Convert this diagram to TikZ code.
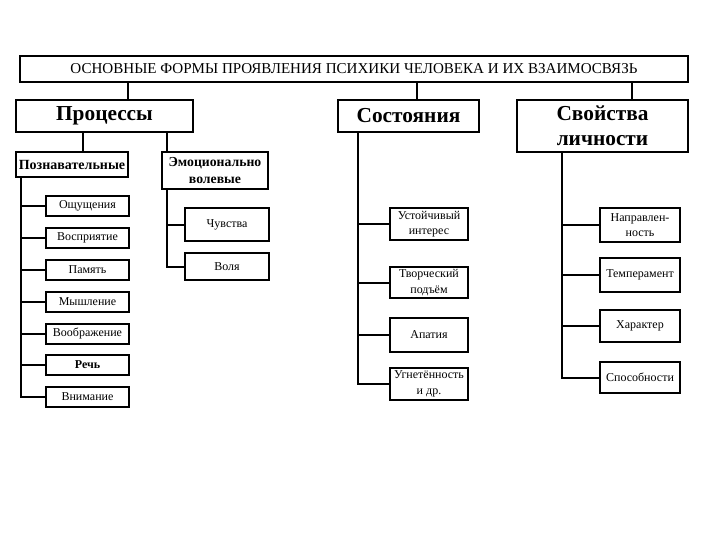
\documentclass[tikz,border=0pt]{standalone}
\usepackage{fontspec}
\setmainfont{Liberation Serif}
\usepackage{tikz}

\begin{document}
\begin{tikzpicture}[x=0.75pt,y=-0.75pt,
  box/.style={draw, line width=1.5pt, inner sep=1pt, align=center, font=\fontsize{9}{11.5}\selectfont},
  head/.style={box, font=\fontsize{16}{19}\selectfont\bfseries},
  link/.style={line width=1.5pt}]

\useasboundingbox (0,0) rectangle (720,540);

%% top
\node[box, minimum width=501pt, minimum height=19.5pt, font=\fontsize{11.3}{12}\selectfont] (title) at (354,69)
  {ОСНОВНЫЕ ФОРМЫ ПРОЯВЛЕНИЯ ПСИХИКИ ЧЕЛОВЕКА И ИХ ВЗАИМОСВЯЗЬ};

%% main groups
\node[head, minimum width=132.75pt, minimum height=24pt] (proc) at (104.5,116) {Процессы};
\node[head, minimum width=105.75pt, minimum height=24pt] (sost) at (408.5,116) {Состояния};
\node[head, minimum width=128.25pt, minimum height=39pt] (svoi) at (602.5,126) {Свойства\\личности};

%% processes
\node[box, minimum width=84pt, minimum height=18.75pt, font=\fontsize{10.5}{11}\selectfont\bfseries] (pozn) at (72,164.5) {Познавательные};
\node[box, minimum width=79.5pt, minimum height=27.75pt, font=\fontsize{10.3}{12.5}\selectfont\bfseries] (emot) at (215,170.5) {Эмоционально\\волевые};

\node[box, minimum width=62.25pt, minimum height=15pt] (p1) at (87.5,205.5) {Ощущения};
\node[box, minimum width=62.25pt, minimum height=15pt] (p2) at (87.5,237.5) {Восприятие};
\node[box, minimum width=62.25pt, minimum height=15pt] (p3) at (87.5,270) {Память};
\node[box, minimum width=62.25pt, minimum height=15pt] (p4) at (87.5,302) {Мышление};
\node[box, minimum width=62.25pt, minimum height=15pt] (p5) at (87.5,333.5) {Воображение};
\node[box, minimum width=62.25pt, minimum height=15pt, font=\fontsize{9}{10}\selectfont\bfseries] (p6) at (87.5,365) {Речь};
\node[box, minimum width=62.25pt, minimum height=15pt] (p7) at (87.5,397) {Внимание};

\node[box, minimum width=63pt, minimum height=24.75pt] (e1) at (227,224.5) {Чувства};
\node[box, minimum width=63pt, minimum height=20.25pt] (e2) at (227,266.5) {Воля};

%% states
\node[box, minimum width=58.5pt, minimum height=24pt] (s1) at (429,224) {Устойчивый\\интерес};
\node[box, minimum width=58.5pt, minimum height=23.25pt] (s2) at (429,282.5) {Творческий\\подъём};
\node[box, minimum width=58.5pt, minimum height=25.5pt] (s3) at (429,335) {Апатия};
\node[box, minimum width=58.5pt, minimum height=24pt] (s4) at (429,384) {Угнетённость\\и др.};

%% personality
\node[box, minimum width=60pt, minimum height=25.5pt] (l1) at (640,225) {Направлен-\\ность};
\node[box, minimum width=60pt, minimum height=25.5pt] (l2) at (640,275) {Темперамент};
\node[box, minimum width=60pt, minimum height=24pt] (l3) at (640,326) {Характер};
\node[box, minimum width=60pt, minimum height=23.25pt] (l4) at (640,377.5) {Способности};

%%% trunks
\coordinate (tproc) at (128,0);
\coordinate (tsost) at (417,0);
\coordinate (tsvoi) at (632,0);
\coordinate (kpozn) at (83,0);
\coordinate (kp) at (21,0);
\coordinate (ke) at (167,0);
\coordinate (ks) at (358,0);
\coordinate (kl) at (562,0);

\draw[link] (title.south -| tproc) -- (proc.north -| tproc);
\draw[link] (title.south -| tsost) -- (sost.north -| tsost);
\draw[link] (title.south -| tsvoi) -- (svoi.north -| tsvoi);
\draw[link] (proc.south -| kpozn) -- (pozn.north -| kpozn);
\draw[link] (proc.south -| ke) -- (emot.north -| ke);

\draw[link] (pozn.south -| kp) |- (p7.west);
\foreach \n in {p1,p2,p3,p4,p5,p6}
  \draw[link] (kp |- \n.west) -- (\n.west);

\draw[link] (emot.south -| ke) |- (e2.west);
\draw[link] (ke |- e1.west) -- (e1.west);

\draw[link] (sost.south -| ks) |- (s4.west);
\foreach \n in {s1,s2,s3}
  \draw[link] (ks |- \n.west) -- (\n.west);

\draw[link] (svoi.south -| kl) |- (l4.west);
\foreach \n in {l1,l2,l3}
  \draw[link] (kl |- \n.west) -- (\n.west);

\end{tikzpicture}
\end{document}
